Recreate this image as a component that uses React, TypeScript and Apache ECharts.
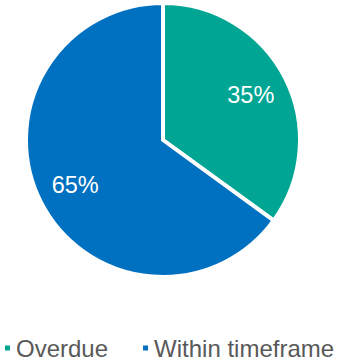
import React, { useEffect, useRef } from "react";
import * as echarts from "echarts";

const categories = ["Overdue", "Within timeframe"];
const values = [35, 65];
const colors = ["#00A693", "#0070C0"];

export default function App() {
  const ref = useRef<HTMLDivElement>(null);
  useEffect(() => {
    document.body.style.margin = "0";
    const chart = echarts.init(ref.current!, null, { renderer: "svg" });
    const data = categories.map((c, i) => ({ name: c, value: values[i], itemStyle: { color: colors[i] } }));
    chart.setOption({
      animation: false,
      legend: {
        data: categories,
        left: 3,
        top: 336,
        padding: 0,
        icon: "rect",
        itemWidth: 7,
        itemHeight: 7,
        itemGap: 33,
        textStyle: { fontFamily: "Liberation Sans, Arial, sans-serif", fontSize: 24, color: "#595959" },
      },
      series: [
        {
          type: "pie",
          center: [163, 140],
          radius: [0, 137],
          startAngle: 90,
          clockwise: true,
          silent: true,
          itemStyle: { borderColor: "#ffffff", borderWidth: 4 },
          label: { show: false },
          labelLine: { show: false },
          data,
        },
        {
          type: "pie",
          center: [163, 140],
          radius: [56, 135],
          startAngle: 90,
          clockwise: true,
          silent: true,
          legendHoverLink: false,
          itemStyle: { color: "transparent", borderWidth: 0 },
          label: {
            show: true,
            position: "inside",
            formatter: (p: any) => p.value + "%",
            color: "#ffffff",
            fontSize: 23.5,
            fontFamily: "Liberation Sans, Arial, sans-serif",
          },
          labelLine: { show: false },
          data: categories.map((c, i) => ({ name: c + " ", value: values[i] })),
        },
      ],
    });
    return () => chart.dispose();
  }, []);
  return <div ref={ref} style={{ width: 357, height: 364 }} />;
}
